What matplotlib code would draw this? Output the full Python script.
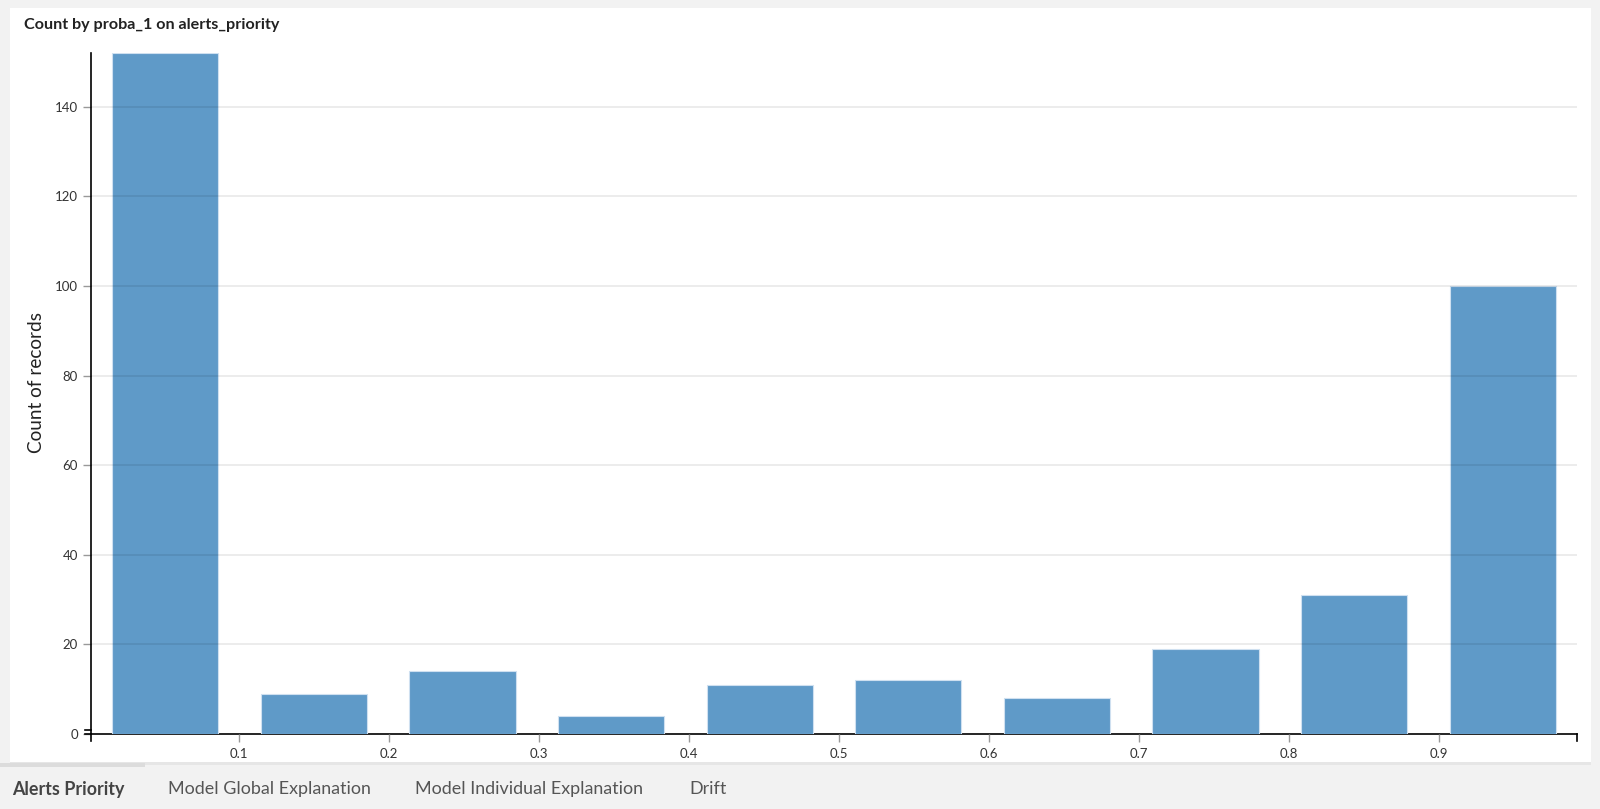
import numpy as np
import matplotlib
matplotlib.use("Agg")
import matplotlib.pyplot as plt
from matplotlib.patches import Rectangle

# ---- data ----
x_min = 0.0013
x_max = 0.992
counts = [152, 9, 14, 4, 11, 12, 8, 19, 31, 100]
x_ticks = [0.1, 0.2, 0.3, 0.4, 0.5, 0.6, 0.7, 0.8, 0.9]
y_ticks = [0, 20, 40, 60, 80, 100, 120, 140]
title = "Count by proba_1 on alerts_priority"
y_label = "Count of records"
tabs = ["Alerts Priority", "Model Global Explanation", "Model Individual Explanation", "Drift"]
tab_x = [12, 168, 415, 689]

W, H = 1600, 809
plt.rcParams['font.family'] = ['Lato', 'DejaVu Sans']
fig = plt.figure(figsize=(W / 100, H / 100), dpi=100)
fig.patch.set_facecolor('#f2f2f2')

def fx(px):
    return px / W

def fy(py):
    return 1 - py / H

# white panel
fig.patches.append(Rectangle((fx(10), fy(763)), fx(1591) - fx(10), fy(8) - fy(763),
                             transform=fig.transFigure, facecolor='white', edgecolor='none', zorder=-10))
# bottom border line of panel
fig.patches.append(Rectangle((fx(10), fy(765)), fx(1591) - fx(10), fy(762) - fy(765),
                             transform=fig.transFigure, facecolor='#e6e6e6', edgecolor='none', zorder=-9))
# active tab underline
fig.patches.append(Rectangle((0, fy(767)), fx(145), fy(763) - fy(767),
                             transform=fig.transFigure, facecolor='#dcdcdc', edgecolor='none', zorder=-9))

ax = fig.add_axes([fx(91), fy(734), fx(1577) - fx(91), fy(53) - fy(734)])
ax.set_facecolor('none')
ax.set_zorder(5)

edges = np.linspace(x_min, x_max, len(counts) + 1)
centers = (edges[:-1] + edges[1:]) / 2
bw = (edges[1] - edges[0]) * 0.715
ax.bar(centers, counts, width=bw, color='#5f9ac8', edgecolor='#cfe0f0', linewidth=0.8, zorder=2)

ax.set_xlim(x_min, x_max)
ax.set_ylim(0, 152)
ax.set_yticks(y_ticks)
ax.set_xticks(x_ticks)
ax.set_xticklabels([f"{t:.1f}" for t in x_ticks])
for t in y_ticks[1:]:
    ax.axhline(t, color='#000000', alpha=0.09, linewidth=1.2, zorder=3)

for s in ['top', 'right']:
    ax.spines[s].set_visible(False)
ax.spines['left'].set_color('black')
ax.spines['bottom'].set_color('black')
ax.spines['left'].set_linewidth(1.2)
ax.spines['bottom'].set_linewidth(1.2)
ax.spines['bottom'].set_zorder(1)
ax.tick_params(axis='both', colors='#999999', length=6, width=1, labelsize=9.5, labelcolor='#333333')
ax.tick_params(axis='x', pad=4)

# outer ticks of domains
ax.plot([x_min, x_min], [0, -0.01], color='black', lw=1.2, transform=ax.get_xaxis_transform(), clip_on=False)
ax.plot([x_max, x_max], [0, -0.01], color='black', lw=1.2, transform=ax.get_xaxis_transform(), clip_on=False)
ax.plot([0, -0.004], [1, 1], color='black', lw=1.2, transform=ax.get_yaxis_transform(), clip_on=False)
ax.plot([0, -0.004], [0, 0], color='black', lw=1.2, transform=ax.get_yaxis_transform(), clip_on=False)

ax.set_ylabel(y_label, fontsize=13.7, color='#222222')
ax.yaxis.set_label_coords(-0.031, 0.516)

fig.text(fx(24), fy(25), title, fontsize=11.6, fontweight='bold', color='#222222', va='center', ha='left')

for i, (t, x) in enumerate(zip(tabs, tab_x)):
    fig.text(fx(x), fy(789), t, fontsize=12.9, color='#555555' if i else '#444444',
             fontweight='bold' if i == 0 else 'normal', va='center', ha='left')

fig.savefig('out.png', dpi=100, facecolor=fig.get_facecolor())
